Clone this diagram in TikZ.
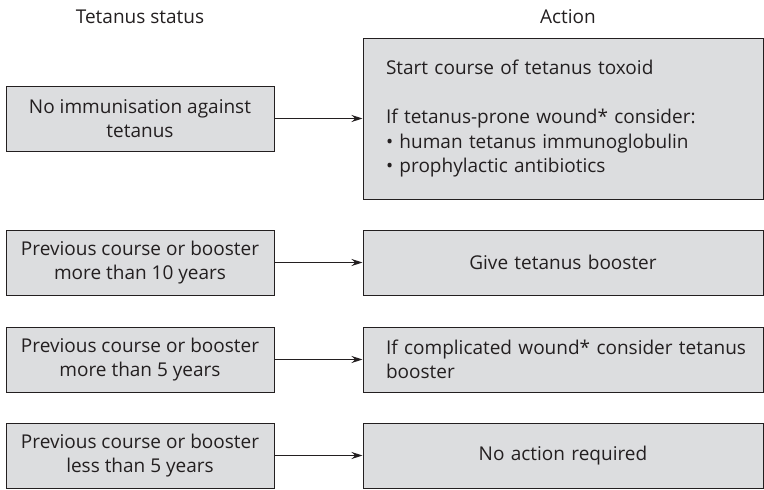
\documentclass[tikz,border=0pt]{standalone}
\usepackage{fontspec}
\setmainfont{Open Sans}
\usetikzlibrary{arrows.meta}
\definecolor{boxfill}{HTML}{DCDDDF}
\definecolor{ink}{HTML}{231F20}
\tikzset{
  lbox/.style={draw=ink, line width=1pt, fill=boxfill, minimum width=268pt, minimum height=65pt, align=center, text=ink, font=\fontsize{19}{24.5}\selectfont, inner sep=0pt},
  rbox/.style={draw=ink, line width=1pt, fill=boxfill, minimum width=400pt, text width=354pt, inner xsep=23pt, inner ysep=0pt, text=ink, font=\fontsize{19}{24.5}\selectfont},
  head/.style={text=ink, font=\fontsize{19}{22}\selectfont},
  conn/.style={draw=ink, line width=1pt, -{Stealth[length=11pt,width=7pt]}}
}
\begin{document}
\begin{tikzpicture}[x=1pt,y=-1pt]
\useasboundingbox (0,0) rectangle (764,490);
\node[head] (h1) at (140,17) {Tetanus status};
\node[head] (h2) at (568,17) {Action};

\node[lbox] (l1) at (140,118.5) {No immunisation against\\tetanus};
\node[lbox] (l2) at (140,262.5) {Previous course or booster\\more than 10 years};
\node[lbox] (l3) at (140,359.5) {Previous course or booster\\more than 5 years};
\node[lbox] (l4) at (140,455.5) {Previous course or booster\\less than 5 years};

\node[rbox, minimum height=161pt, align=left] (r1) at (563,118.5) {Start course of tetanus toxoid\\[25pt]\mbox{If tetanus-prone wound* consider:}\\\mbox{• human tetanus immunoglobulin}\\\mbox{• prophylactic antibiotics}};
\node[rbox, minimum height=65pt, align=center] (r2) at (563,262.5) {Give tetanus booster};
\node[rbox, minimum height=65pt, align=left] (r3) at (563,359.5) {\mbox{If complicated wound* consider tetanus}\\booster};
\node[rbox, minimum height=65pt, align=center] (r4) at (563,455.5) {No action required};

\draw[conn] (l1.east) -- (l1.east -| r1.west);
\draw[conn] (l2) -- (r2);
\draw[conn] (l3) -- (r3);
\draw[conn] (l4) -- (r4);
\end{tikzpicture}
\end{document}
